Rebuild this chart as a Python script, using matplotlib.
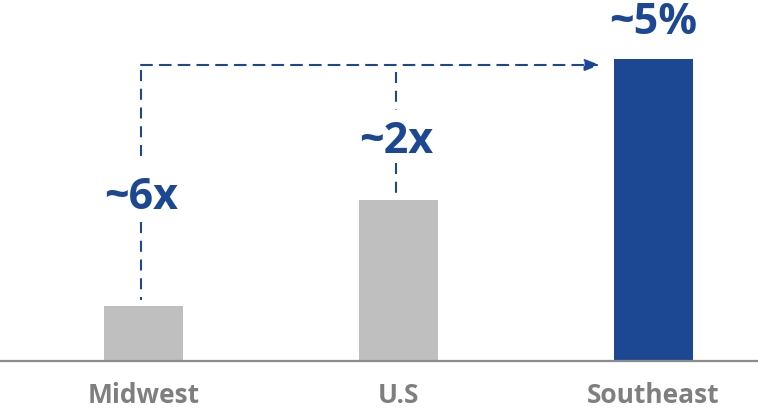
import matplotlib
matplotlib.use("Agg")
import matplotlib.pyplot as plt

categories = ["Midwest", "U.S", "Southeast"]
values = [0.91, 2.67, 5.0]
bar_colors = ["#bfbfbf", "#bfbfbf", "#1c4893"]
multiples = ["~6x", "~2x"]
top_label = "~5%"

BLUE = "#1c4893"
plt.rcParams['font.family'] = ['Open Sans', 'DejaVu Sans']

fig = plt.figure(figsize=(7.58, 4.09), dpi=100)
ax = fig.add_axes([0, 1 - 361/409, 1, 361/409])
x = list(range(len(categories)))
ax.bar(x, values, width=0.31, color=bar_colors, zorder=2)
ax.set_xlim(-0.563, 2.41)
ax.set_ylim(0, 5.977)

for s in ["top", "right", "left"]:
    ax.spines[s].set_visible(False)
ax.spines["bottom"].set_color("#8c8c8c")
ax.spines["bottom"].set_linewidth(1.6)
ax.set_yticks([])
ax.set_xticks(x)
ax.set_xticklabels(categories, fontsize=19, fontweight="bold", color="#7f7f7f")
for t in ax.get_xticklabels():
    t.set_va("baseline")
ax.tick_params(axis="x", length=0, pad=30)


def ydata(px):
    return (361 - px) / 361 * 5.977


yline = ydata(65)
LS = (0, (5.3, 3.7))
dash = dict(color=BLUE, lw=1.5, linestyle=LS)
xl = -0.01
ax.annotate("", xy=(x[2] - 0.21, yline), xytext=(xl, yline),
            arrowprops=dict(arrowstyle="-|>,head_length=0.9,head_width=0.35",
                            color=BLUE, lw=1.5, linestyle=LS,
                            shrinkA=0, shrinkB=0))

# Midwest vertical
ax.plot([xl, xl], [ydata(70), ydata(161)], **dash)
ax.plot([xl, xl], [ydata(222), ydata(300)], **dash)
ax.text(xl, ydata(197), multiples[0], ha="center", va="center",
        fontsize=31, fontweight="bold", color=BLUE)

# US vertical
xu = x[1] - 0.01
ax.plot([xu, xu], [ydata(72), ydata(110)], **dash)
ax.plot([xu, xu], [ydata(163), values[1]], **dash)
ax.text(xu, ydata(141), multiples[1], ha="center", va="center",
        fontsize=31, fontweight="bold", color=BLUE)

ax.text(x[2], ydata(23), top_label, ha="center", va="center",
        fontsize=31, fontweight="bold", color=BLUE, clip_on=False)

fig.savefig("out.png", dpi=100)
